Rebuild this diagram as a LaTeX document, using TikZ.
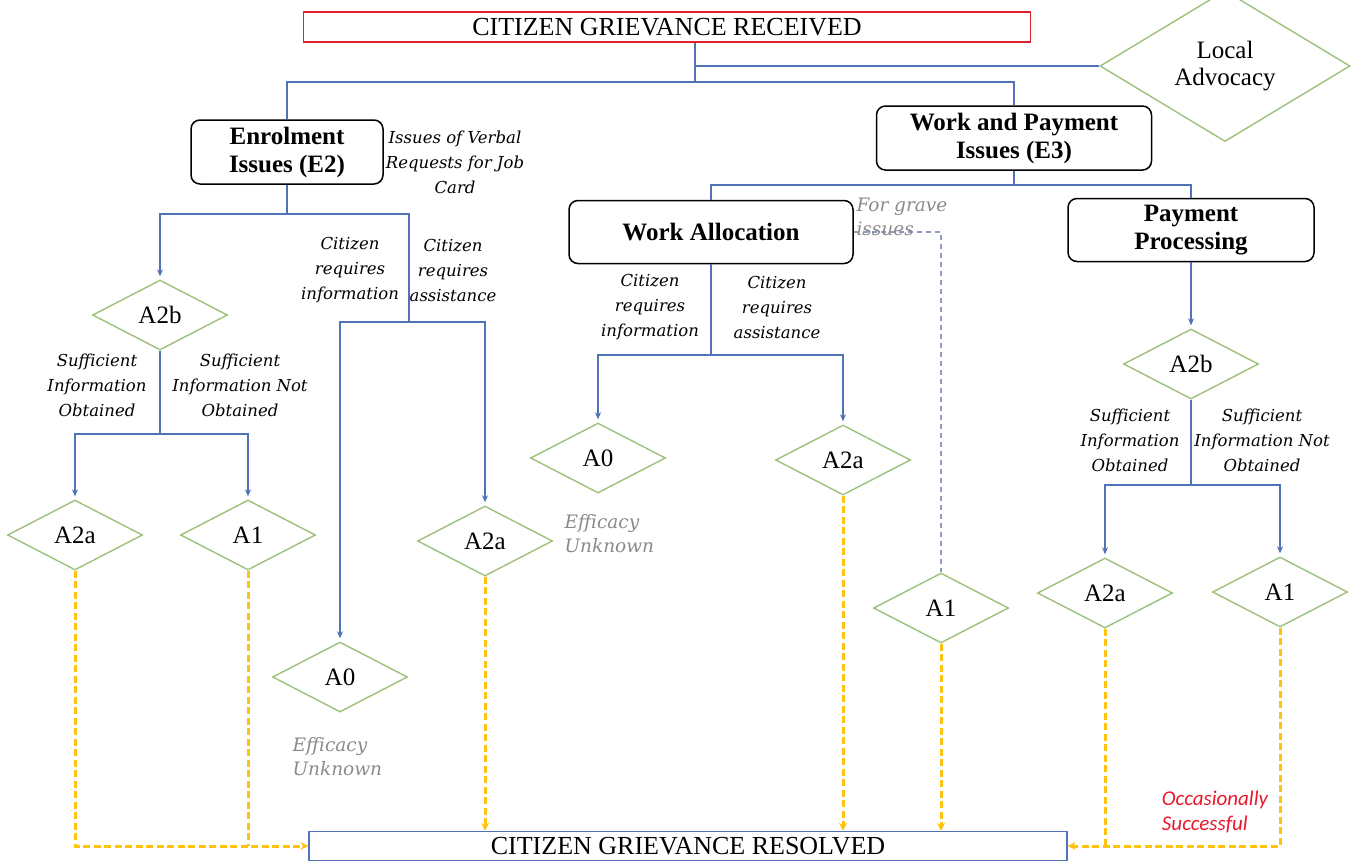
\documentclass[tikz,border=0pt]{standalone}
\usepackage{fontspec}
\setmainfont{Liberation Serif}
\newfontfamily\labelfont{DejaVu Serif}
\newfontfamily\notefont{Carlito}
\usetikzlibrary{shapes,positioning,arrows.meta,calc}

\begin{document}
\begin{tikzpicture}[x=1pt, y=-1pt,
    mainbox/.style={draw, line width=1.2pt, minimum height=30pt, inner sep=0pt, font=\fontsize{26}{28}\selectfont},
    issuebox/.style={draw=black, line width=1.5pt, rounded corners=9pt, align=center, inner sep=0pt, font=\fontsize{25}{28}\selectfont\bfseries},
    action/.style={diamond, draw=actionBorder, line width=1.4pt, minimum width=135pt, minimum height=70pt, inner sep=0pt, align=center, font=\fontsize{25}{27}\selectfont},
    flow/.style={draw=flowBlue, line width=1.4pt},
    flowarrow/.style={flow, -{Stealth[length=7pt,width=6pt]}, shorten >=3pt},
    resolveline/.style={draw=resolveGold, line width=3pt, dash pattern=on 7pt off 3.5pt},
    resolvearrow/.style={resolveline, -{Stealth[length=8pt,width=8pt]}},
    graveline/.style={draw=graveBlue, line width=1.2pt, dash pattern=on 5pt off 4pt},
    cond/.style={align=center, font=\labelfont\itshape\fontsize{16.5}{25}\selectfont},
    remark/.style={align=left, text=remarkGray, font=\labelfont\itshape\fontsize{18.5}{24}\selectfont}]
    % Palette
    \definecolor{receivedBorder}{HTML}{E0202A}
    \definecolor{flowBlue}{HTML}{4F72B8}
    \definecolor{actionBorder}{HTML}{9CC27A}
    \definecolor{resolveGold}{HTML}{FFC20E}
    \definecolor{graveBlue}{HTML}{8C9DC0}
    \definecolor{remarkGray}{HTML}{8A8A8A}
    \definecolor{noteRed}{HTML}{E8192C}

    \useasboundingbox (0,0) rectangle (1351,863);

    % --- Start and end ---
    \node[mainbox, draw=receivedBorder, minimum width=727pt] (received) at (667,27) {CITIZEN GRIEVANCE RECEIVED};
    \node[mainbox, draw=flowBlue, minimum width=758pt, minimum height=29pt] (resolved) at (688,846) {CITIZEN GRIEVANCE RESOLVED};
    \node[action, minimum width=250pt, minimum height=114pt] (advocacy) at (1225,66) {Local\\Advocacy};

    % --- Grievance types ---
    \node[issuebox, minimum width=192pt, minimum height=64pt] (enrol) at (287,152) {Enrolment\\Issues (E2)};
    \node[issuebox, minimum width=275pt, minimum height=64pt] (workpay) at (1014,138) {Work and Payment\\Issues (E3)};
    \node[issuebox, minimum width=284pt, minimum height=63pt] (alloc) at (711,232) {Work Allocation};
    \node[issuebox, minimum width=246pt, minimum height=63pt] (payproc) at (1191,230) {Payment\\Processing};

    % --- Enrolment actions ---
    \node[action] (eA2b) at (160,315) {A2b};
    \node[action] (eA2a) at (75,535) {A2a};
    \node[action] (eA1) at (248,535) {A1};
    \node[action] (eA0) at (340,677) {A0};
    \node[action] (eA2aHelp) at (485,541) {A2a};

    % --- Work allocation actions ---
    \node[action] (wA0) at (598,458) {A0};
    \node[action] (wA2a) at (843,460) {A2a};
    \node[action] (wA1) at (941,608) {A1};

    % --- Payment actions ---
    \node[action] (pA2b) at (1191,364) {A2b};
    \node[action] (pA2a) at (1105,593) {A2a};
    \node[action] (pA1) at (1280,592) {A1};

    % Bus points
    \coordinate (topBus) at (695,82);
    \coordinate (eBus) at (287,214);
    \coordinate (eHelp) at (409,322);
    \coordinate (ebBus) at (160,434);
    \coordinate (wBus) at (1014,185);
    \coordinate (aBus) at (711,355);
    \coordinate (pBus) at (1191,485);

    % --- Blue connectors ---
    \draw[flow] (received.south -| topBus) -- (topBus);
    \draw[flow] (received.south -| topBus) |- (advocacy.west);
    \draw[flow] (enrol.north) |- (topBus) -| (workpay.north);

    \draw[flow] (enrol.south) -- (eBus) -| (eHelp);
    \draw[flowarrow] (eBus) -| (eA2b.north);
    \draw[flowarrow] (eHelp) -| (eA0.north);
    \draw[flowarrow] (eHelp) -| (eA2aHelp.north);
    \draw[flow] (eA2b.south) -- (ebBus);
    \draw[flowarrow] (ebBus) -| (eA2a.north);
    \draw[flowarrow] (ebBus) -| (eA1.north);

    \draw[flow] (workpay.south) -- (wBus);
    \draw[flow] (wBus) -| (alloc.north);
    \draw[flow] (wBus) -| (payproc.north);
    \draw[flow] (alloc.south) -- (aBus);
    \draw[flowarrow] (aBus) -| (wA0.north);
    \draw[flowarrow] (aBus) -| (wA2a.north);
    \draw[graveline] (alloc.east) -| (wA1.north);

    \draw[flowarrow] (payproc.south) -- (pA2b.north);
    \draw[flow] (pA2b.south) -- (pBus);
    \draw[flowarrow] (pBus) -| (pA2a.north);
    \draw[flowarrow] (pBus) -| (pA1.north);

    % --- Gold connectors ---
    \draw[resolveline] (eA1.south) -- (eA1.south |- resolved.west);
    \draw[resolvearrow] (eA2a.south) |- (resolved.west);
    \draw[resolvearrow] (eA2aHelp.south) -- (eA2aHelp.south |- resolved.north);
    \draw[resolvearrow] (wA2a.south) -- (wA2a.south |- resolved.north);
    \draw[resolvearrow] (wA1.south) -- (wA1.south |- resolved.north);
    \draw[resolveline] (pA2a.south) -- (pA2a.south |- resolved.east);
    \draw[resolvearrow] (pA1.south) |- (resolved.east);

    % --- Labels ---
    \node[cond] (verbal) at (455,162) {Issues of Verbal\\Requests for Job\\Card};
    \node[cond] (eInfo) at (350,270) {Citizen\\requires\\information};
    \node[cond] (eAssist) at (453,270) {Citizen\\requires\\assistance};
    \node[cond] (ebYes) at (97,385) {Sufficient\\Information\\Obtained};
    \node[cond] (ebNo) at (240,385) {Sufficient\\Information Not\\Obtained};
    \node[cond] (aInfo) at (650,307) {Citizen\\requires\\information};
    \node[cond] (aAssist) at (777,307) {Citizen\\requires\\assistance};
    \node[cond] (pbYes) at (1130,440) {Sufficient\\Information\\Obtained};
    \node[cond] (pbNo) at (1262,440) {Sufficient\\Information Not\\Obtained};

    \node[remark, anchor=west] (grave) at (853,217) {For grave\\issues};
    \node[remark, anchor=west] (wUnknown) at (561,534) {Efficacy\\Unknown};
    \node[remark, anchor=west] (eUnknown) at (289,757) {Efficacy\\Unknown};
    \node[align=left, text=noteRed, font=\notefont\itshape\fontsize{21}{25}\selectfont] (occasional) at (1215,812) {Occasionally\\Successful};

\end{tikzpicture}
\end{document}
